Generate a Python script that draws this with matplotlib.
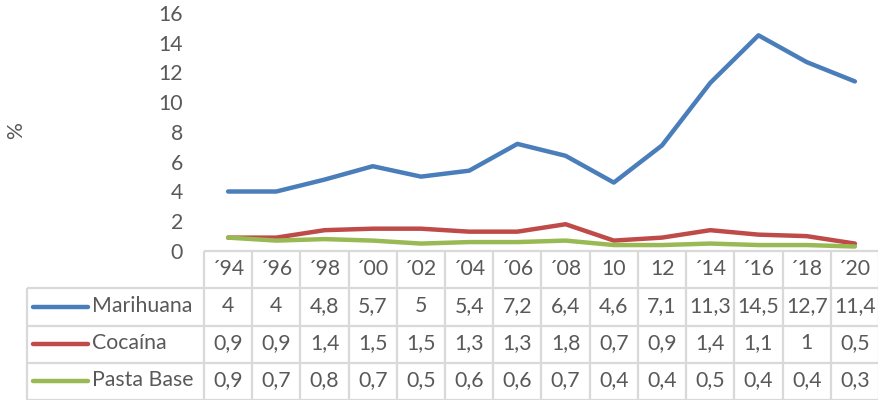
import matplotlib
matplotlib.use("Agg")
import matplotlib.pyplot as plt

plt.rcParams['font.family'] = ['Lato', 'DejaVu Sans']

# ---- data ----
years = ["´94", "´96", "´98", "´00", "´02", "´04", "´06", "´08", "10", "12", "´14", "´16", "´18", "´20"]
marihuana = [4, 4, 4.8, 5.7, 5, 5.4, 7.2, 6.4, 4.6, 7.1, 11.3, 14.5, 12.7, 11.4]
cocaina = [0.9, 0.9, 1.4, 1.5, 1.5, 1.3, 1.3, 1.8, 0.7, 0.9, 1.4, 1.1, 1, 0.5]
pasta_base = [0.9, 0.7, 0.8, 0.7, 0.5, 0.6, 0.6, 0.7, 0.4, 0.4, 0.5, 0.4, 0.4, 0.3]
series_names = ["Marihuana", "Cocaína", "Pasta Base"]
y_ticks = [0, 2, 4, 6, 8, 10, 12, 14, 16]
y_label = "%"

series_values = [marihuana, cocaina, pasta_base]
colors = ["#4A7EBB", "#BE4B48", "#98B954"]
text_color = "#595959"
grid_color = "#D9D9D9"
fs = 15.3

W, H = 879, 400
fig = plt.figure(figsize=(W / 100, H / 100), dpi=100)

# ---- main line axes ----
ax = fig.add_axes([204 / W, 1 - 251 / H, (879 - 204) / W, (251 - 13) / H])
x = list(range(len(years)))
for vals, col in zip(series_values, colors):
    ax.plot(x, vals, color=col, lw=3.2, solid_capstyle='round',
            solid_joinstyle='round', clip_on=False)
ax.set_xlim(-0.5, len(years) - 0.5)
ax.set_ylim(y_ticks[0], y_ticks[-1])
ax.set_yticks(y_ticks)
ax.set_yticklabels([str(t) for t in y_ticks], fontsize=fs, color=text_color)
ax.tick_params(axis='y', length=0, pad=15)
ax.set_xticks([])
for s in ax.spines.values():
    s.set_visible(False)
ax.patch.set_alpha(0)
fig.text(16 / W, 1 - 131 / H, y_label, rotation=90, ha='center', va='center',
         fontsize=fs, color=text_color)

# ---- data table ----
tax = fig.add_axes([204 / W, 0, (879 - 204) / W, 149 / H])
n = len(years)
tax.set_xlim(-0.5, n - 0.5)
tax.set_ylim(4, 0)
tax.axis('off')
col_w_px = 675 / n
left_edge = -0.5 - 177 / col_w_px

lk = dict(color=grid_color, lw=1.6, clip_on=False, solid_capstyle='butt')
tax.plot([-0.5, n - 0.5], [0, 0], **lk)
for r in [1, 2, 3, 4]:
    tax.plot([left_edge, n - 0.5], [r, r], **lk)
for k in range(n + 1):
    tax.plot([-0.5 + k, -0.5 + k], [0, 4], **lk)
tax.plot([left_edge, left_edge], [1, 4], **lk)

for i, lab in enumerate(years):
    tax.text(i, 0.47, lab, ha='center', va='center', fontsize=fs, color=text_color)

leg_x0 = -0.5 - (204 - 33) / col_w_px
leg_x1 = -0.5 - (204 - 88) / col_w_px
leg_tx = -0.5 - (204 - 92) / col_w_px
for r, (name, vals, col) in enumerate(zip(series_names, series_values, colors)):
    yc = r + 1.47
    tax.plot([leg_x0, leg_x1], [yc + 0.03, yc + 0.03], color=col, lw=3.2,
             solid_capstyle='round', clip_on=False)
    tax.text(leg_tx, yc, name, ha='left', va='center', fontsize=fs, color=text_color)
    for i, v in enumerate(vals):
        tax.text(i, yc, f"{v:g}".replace('.', ','), ha='center', va='center',
                 fontsize=fs, color=text_color)

fig.savefig("out.png", dpi=100)
